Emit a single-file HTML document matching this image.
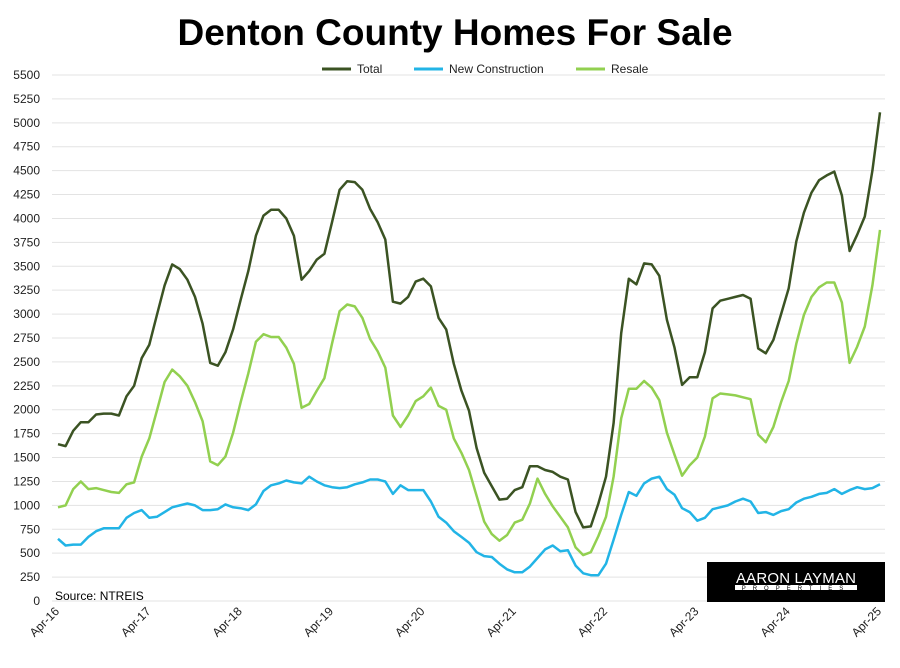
<!DOCTYPE html>
<html><head><meta charset="utf-8"><style>
body{margin:0;background:#fff;width:900px;height:663px;overflow:hidden;font-family:"Liberation Sans",sans-serif}
</style></head><body>
<svg id="s" width="900" height="663" xmlns="http://www.w3.org/2000/svg" font-family="Liberation Sans, sans-serif">
<rect width="900" height="663" fill="#fff"/>
<text x="455" y="45" text-anchor="middle" font-size="37" font-weight="bold" fill="#000">Denton County Homes For Sale</text>
<g font-size="12" fill="#222">
<line x1="322" y1="69" x2="351" y2="69" stroke="#3b5323" stroke-width="3"/><text x="357" y="73">Total</text>
<line x1="414" y1="69" x2="443" y2="69" stroke="#22b4e6" stroke-width="3"/><text x="449" y="73">New Construction</text>
<line x1="576" y1="69" x2="605" y2="69" stroke="#92d050" stroke-width="3"/><text x="611" y="73">Resale</text>
</g>
<g id="grid"></g>
<g id="lines"></g>
<text x="55" y="600" font-size="12" fill="#000">Source: NTREIS</text>
<rect x="707" y="562" width="178" height="40" fill="#000"/>
<text x="796" y="583" text-anchor="middle" font-size="15" fill="#fff" textLength="120">AARON LAYMAN</text>
<rect x="735" y="585" width="122" height="5" fill="#fff"/>
<text x="796" y="590" text-anchor="middle" font-size="6" fill="#000" letter-spacing="7">PROPERTIES</text>
</svg>
<script>
var T=[1640,1620,1780,1870,1870,1950,1960,1960,1940,2140,2250,2540,2680,2990,3300,3520,3470,3360,3180,2900,2490,2460,2600,2840,3150,3450,3820,4030,4090,4090,4000,3820,3360,3450,3570,3630,3960,4300,4390,4380,4300,4100,3960,3780,3130,3110,3180,3340,3370,3290,2960,2840,2480,2200,1990,1600,1340,1200,1060,1070,1160,1190,1410,1410,1370,1350,1300,1270,930,770,780,1020,1300,1860,2800,3370,3310,3530,3520,3400,2940,2650,2260,2340,2340,2600,3060,3140,3160,3180,3200,3160,2640,2590,2730,3000,3270,3760,4060,4270,4400,4450,4490,4240,3660,3830,4020,4500,5110];
var R=[980,1000,1170,1250,1170,1180,1160,1140,1130,1220,1240,1510,1700,1990,2290,2420,2350,2250,2080,1880,1460,1420,1510,1760,2080,2380,2710,2790,2760,2760,2650,2480,2020,2060,2200,2330,2690,3030,3100,3080,2960,2740,2610,2440,1940,1820,1940,2090,2140,2230,2040,2000,1700,1550,1370,1100,830,700,630,690,820,850,1020,1280,1120,990,880,770,560,480,510,680,880,1300,1910,2220,2220,2300,2230,2100,1760,1530,1310,1420,1500,1720,2120,2170,2160,2150,2130,2110,1740,1660,1820,2080,2300,2690,2990,3180,3280,3330,3330,3120,2490,2660,2870,3300,3880];
var N=[650,580,590,590,670,730,760,760,760,870,920,950,870,880,930,980,1000,1020,1000,950,950,960,1010,980,970,950,1010,1150,1210,1230,1260,1240,1230,1300,1250,1210,1190,1180,1190,1220,1240,1270,1270,1250,1120,1210,1160,1160,1160,1040,880,820,730,670,610,510,470,460,390,330,300,300,360,450,540,580,520,530,370,290,270,270,390,640,900,1140,1100,1230,1280,1300,1170,1110,970,930,840,870,960,980,1000,1040,1070,1040,920,930,900,940,960,1030,1070,1090,1120,1130,1170,1120,1160,1190,1170,1180,1220];
var NS="http://www.w3.org/2000/svg";
function X(i){return 58+i*762/100.2*1.0+0*i}
function px(i){return 58+i*(822/108)}
function py(v){return 601-v*(526/5500)}
var g=document.getElementById('grid'),h='';
for(var v=0;v<=5500;v+=250){var y=py(v);h+='<line x1="52" y1="'+y+'" x2="885" y2="'+y+'" stroke="#e3e3e3" stroke-width="1"/>';h+='<text x="40" y="'+(y+4)+'" text-anchor="end" font-size="12" fill="#222">'+v+'</text>';}
var labs=['Apr-16','Apr-17','Apr-18','Apr-19','Apr-20','Apr-21','Apr-22','Apr-23','Apr-24','Apr-25'];
for(var k=0;k<10;k++){var x=px(k*12);h+='<text transform="translate('+(x+2)+',612) rotate(-45)" text-anchor="end" font-size="12" fill="#222">'+labs[k]+'</text>';}
g.innerHTML=h;
function pl(a,c){var p=a.map(function(v,i){return px(i).toFixed(1)+','+py(v).toFixed(1)}).join(' ');return '<polyline points="'+p+'" fill="none" stroke="'+c+'" stroke-width="2.5" stroke-linejoin="round"/>';}
document.getElementById('lines').innerHTML=pl(N,'#22b4e6')+pl(R,'#92d050')+pl(T,'#3b5323');
</script>
</body></html>
